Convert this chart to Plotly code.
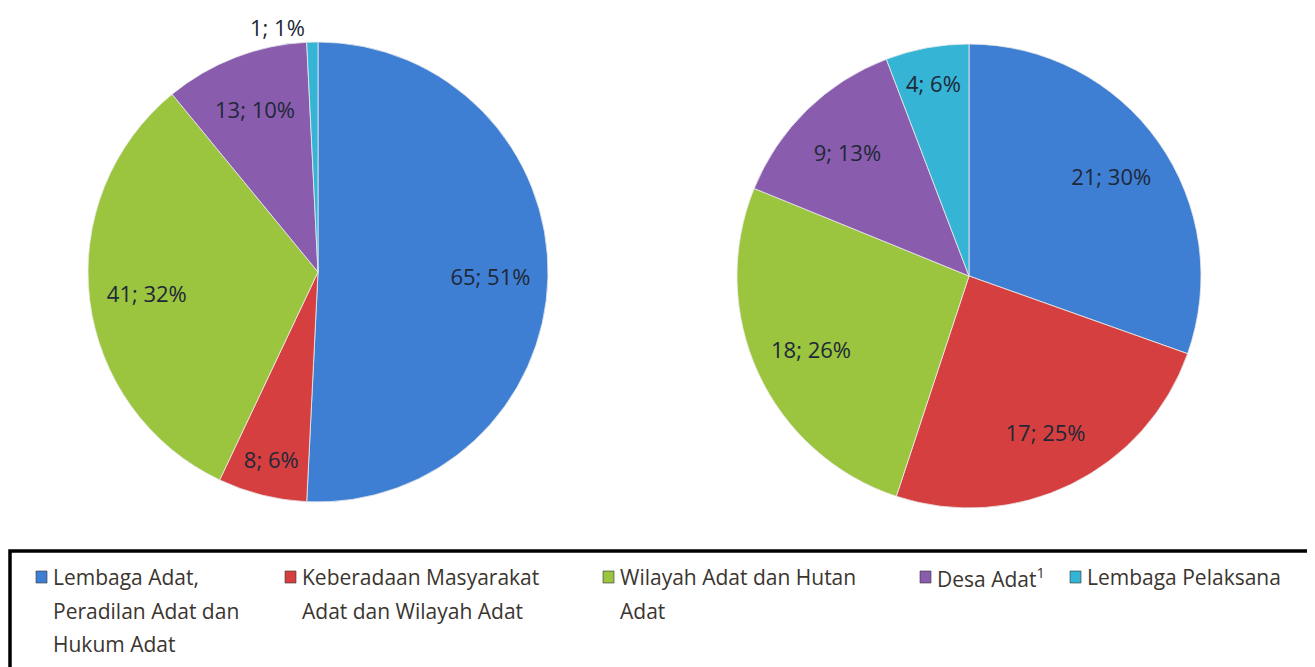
import plotly.graph_objects as go

categories = [
    "Lembaga Adat, Peradilan Adat dan Hukum Adat",
    "Keberadaan Masyarakat Adat dan Wilayah Adat",
    "Wilayah Adat dan Hutan Adat",
    "Desa Adat",
    "Lembaga Pelaksana",
]
left_values = [65, 8, 41, 13, 1]
right_values = [21, 17, 18, 9, 4]
colors = ["#3f7fd3", "#d63f3f", "#9bc43f", "#8a5cae", "#35b4d6"]

legend_lines = [
    ["Lembaga Adat,", "Peradilan Adat dan", "Hukum Adat"],
    ["Keberadaan Masyarakat", "Adat dan Wilayah Adat"],
    ["Wilayah Adat dan Hutan", "Adat"],
    ["Desa Adat<sup>1</sup>"],
    ["Lembaga Pelaksana"],
]

# page has an 8px body margin: figure is sized so it ends at the window edge
OFF = 8
W, H = 1315 - OFF, 667 - OFF


def px(x):
    return (x - OFF) / W


def py(y):
    return 1 - (y - OFF) / H


label_font = dict(family="Open Sans, DejaVu Sans, sans-serif", size=22, color="#1e2838")

pies = [
    (left_values, (88, 548), (42, 502), ["inside", "inside", "inside", "inside", "outside"]),
    (right_values, (737, 1201), (44, 508), "inside"),
]

fig = go.Figure()
for vals, (x0, x1), (y0, y1), tpos in pies:
    dom = dict(x=[px(x0), px(x1)], y=[py(y1), py(y0)])
    # coloured slices
    fig.add_trace(go.Pie(
        labels=categories, values=vals, sort=False, direction="clockwise", rotation=0,
        marker=dict(colors=colors, line=dict(color="rgba(235,235,235,0.8)", width=1)),
        textinfo="none", domain=dom, showlegend=False,
        hoverinfo="label+value+percent",
    ))
    # value labels, placed in the outer part of each slice
    fig.add_trace(go.Pie(
        labels=categories, values=vals, sort=False, direction="clockwise", rotation=0,
        hole=0.5,
        marker=dict(colors=["rgba(0,0,0,0)"] * len(vals), line=dict(width=0)),
        texttemplate="%{value}; %{percent:.0%}",
        textposition=tpos, insidetextorientation="horizontal",
        textfont=label_font, insidetextfont=label_font, outsidetextfont=label_font,
        domain=dom, showlegend=False, hoverinfo="skip",
    ))

legend_sq_x = [36, 285, 603, 920, 1070]
line_y = [577, 611, 644]
shapes = [dict(type="rect", xref="paper", yref="paper",
               x0=px(10), x1=px(1312), y0=-0.1, y1=py(551),
               line=dict(color="black", width=3.5), fillcolor="rgba(0,0,0,0)", layer="above")]
annotations = []
leg_font = dict(family="Open Sans, DejaVu Sans, sans-serif", size=21, color="#3b3530")
for i, lines in enumerate(legend_lines):
    x = legend_sq_x[i]
    shapes.append(dict(type="rect", xref="paper", yref="paper",
                       x0=px(x), x1=px(x + 11), y0=py(583), y1=py(571),
                       fillcolor=colors[i], line=dict(color="#333", width=0.6), layer="above"))
    for j, t in enumerate(lines):
        annotations.append(dict(text=t, xref="paper", yref="paper",
                                x=px(x + 15), y=py(line_y[j]),
                                xanchor="left", yanchor="middle", showarrow=False,
                                font=leg_font))

fig.update_layout(
    width=W, height=H, margin=dict(l=0, r=0, t=0, b=0),
    paper_bgcolor="white", plot_bgcolor="white",
    shapes=shapes, annotations=annotations,
)
fig.write_html("out.html")
